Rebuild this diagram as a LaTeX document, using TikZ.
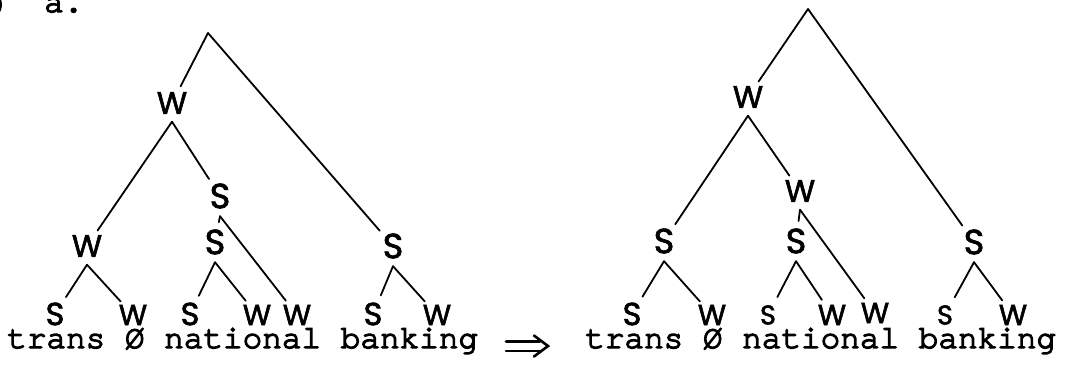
\documentclass[tikz,border=0pt]{standalone}
\usepackage{fontspec}
\newfontfamily\typew{texgyrecursor-regular.otf}[FakeBold=4]
\newfontfamily\handf{Poppins}[FakeBold=2]
\begin{document}
\begin{tikzpicture}[x=1pt,y=-1pt,
  sn/.style={circle, inner sep=0pt, minimum size=40pt, font=\handf\fontsize{35}{35}\selectfont},
  sleaf/.style={sn, font=\handf\fontsize{32}{32}\selectfont},
  ssm/.style={sn, font=\handf\fontsize{27}{27}\selectfont},
  wn/.style={circle, inner sep=0pt, minimum size=36pt, font=\handf\fontsize{31}{31}\selectfont},
  wleaf/.style={wn, font=\handf\fontsize{29}{29}\selectfont},
  edge/.style={line width=1.8pt, line cap=round},
  arrline/.style={line width=2.6pt, line cap=round, line join=miter},
  txt/.style={anchor=base west, inner sep=0pt, font=\typew\fontsize{32.7}{32.7}\selectfont}]
\useasboundingbox (0,0) rectangle (1071,365);

% heading
\node[txt, anchor=base east] (paren) at (11,12) {)};
\node[txt] (lab) at (44,12) {a.};

% ---------- left tree ----------
\coordinate (rootL) at (208,33);
\node[wn] (Lw1) at (172,103) {W};
\node[sn] (LbS) at (393,246) {S};
\node[sn] (Ls2) at (220,196) {S};
\node[wn] (Lw3) at (87,246) {W};
\node[sn] (Ls3) at (215,242) {S};
\node[sleaf] (L1) at (55,314) {S};
\node[wleaf] (L2) at (133,315) {W};
\node[sleaf] (L3) at (190,314) {S};
\node[wleaf] (L4) at (257,315) {W};
\node[wleaf] (L5) at (297,315) {W};
\node[sleaf] (L6) at (373,314) {S};
\node[wleaf] (L7) at (437,315) {W};

\draw[edge] (rootL) -- (Lw1);
\draw[edge] (rootL) -- (LbS);
\draw[edge] (Lw1.south) -- (Lw3);
\draw[edge] (Lw1.south) -- (Ls2);
\draw[edge] (Lw3.south) -- (L1);
\draw[edge] (Lw3.south) -- (L2);
\draw[edge] (Ls2.south) -- (Ls3);
\draw[edge] (Ls2.south) -- (L5);
\draw[edge] (Ls3.south) -- (L3);
\draw[edge] (Ls3.south) -- (L4);
\draw[edge] (LbS.south) -- (L6);
\draw[edge] (LbS.south) -- (L7);

% ---------- right tree ----------
\coordinate (rootR) at (808,9);
\node[wn] (Rw1) at (748,97) {W};
\node[sn] (RbS) at (974,242) {S};
\node[sn] (Rs2) at (664,241) {S};
\node[wn] (Rw2) at (800,191) {W};
\node[sn] (Rs3) at (796,241) {S};
\node[sleaf] (R1) at (632,314) {S};
\node[wleaf] (R2) at (712,315) {W};
\node[ssm] (R3) at (768,315) {S};
\node[wleaf] (R4) at (832,315) {W};
\node[wleaf] (R5) at (875,313) {W};
\node[ssm] (R6) at (945,315) {S};
\node[wleaf] (R7) at (1013,315) {W};

\draw[edge] (rootR) -- (Rw1);
\draw[edge] (rootR) -- (RbS);
\draw[edge] (Rw1.south) -- (Rs2);
\draw[edge] (Rw1.south) -- (Rw2);
\draw[edge] (Rs2.south) -- (R1);
\draw[edge] (Rs2.south) -- (R2);
\draw[edge] (Rw2.south) -- (Rs3);
\draw[edge] (Rw2.south) -- (R5);
\draw[edge] (Rs3.south) -- (R3);
\draw[edge] (Rs3.south) -- (R4);
\draw[edge] (RbS.south) -- (R6);
\draw[edge] (RbS.south) -- (R7);

% ---------- words ----------
\node[txt] (wl) at (7,348) {trans Ø national banking};
\node[txt] (wr) at (585,348) {trans Ø national banking};

% double arrow between the two lines
\coordinate (arrL) at (506,346);
\coordinate (arrT) at (548,346);
\draw[arrline] ([yshift=4.8pt]arrL) -- ([xshift=-8pt,yshift=4.8pt]arrT);
\draw[arrline] ([yshift=-4.8pt]arrL) -- ([xshift=-8pt,yshift=-4.8pt]arrT);
\draw[arrline] ([xshift=-14pt,yshift=10.5pt]arrT) -- (arrT) -- ([xshift=-14pt,yshift=-10.5pt]arrT);
\end{tikzpicture}
\end{document}
